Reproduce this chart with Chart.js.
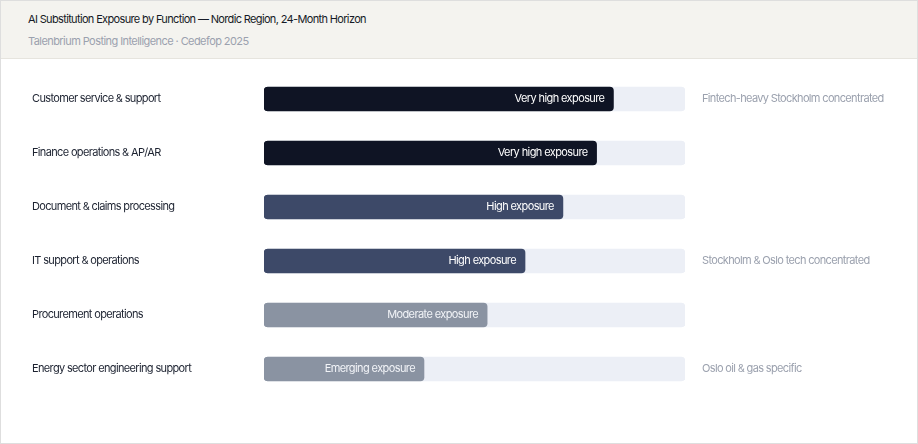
<!DOCTYPE html>
<html lang="en">
  <head>
    <meta charset="UTF-8" />
    <title>AI Substitution Exposure by Function</title>
    <script src="https://cdn.jsdelivr.net/npm/chart.js"></script>
    <style>
      html, body {
        margin: 0;
        padding: 0;
        background: #ffffff;
      }
      body {
        font-family: "Inter", "Liberation Sans", sans-serif;
      }
      .card {
        width: 918px;
        height: 444px;
        box-sizing: border-box;
        border: 1px solid #dedede;
        background: #ffffff;
        overflow: hidden;
      }
      .header {
        height: 58px;
        background: #f4f3ef;
        border-bottom: 1px solid #e6e4de;
        box-sizing: border-box;
        position: relative;
      }
      .title {
        position: absolute;
        left: 27px;
        top: 11px;
        font-size: 11px;
        color: #161a26;
        letter-spacing: -0.65px;
      }
      .subtitle {
        position: absolute;
        left: 27px;
        top: 33px;
        font-size: 11px;
        color: #9ba1ae;
        letter-spacing: -0.57px;
      }
      .chart-box {
        position: relative;
        width: 916px;
        height: 384px;
      }
    </style>
  </head>
  <body>
    <div class="card">
      <div class="header">
        <div class="title">AI Substitution Exposure by Function — Nordic Region, 24-Month Horizon</div>
        <div class="subtitle">Talenbrium Posting Intelligence · Cedefop 2025</div>
      </div>
      <div class="chart-box">
        <canvas id="exposureChart"></canvas>
      </div>
    </div>

    <script>
      const functions = [
        "Customer service & support",
        "Finance operations & AP/AR",
        "Document & claims processing",
        "IT support & operations",
        "Procurement operations",
        "Energy sector engineering support",
      ];
      const exposure = [83, 79, 71, 62, 53, 38];
      const levels = [
        "Very high exposure",
        "Very high exposure",
        "High exposure",
        "High exposure",
        "Moderate exposure",
        "Emerging exposure",
      ];
      const notes = [
        "Fintech-heavy Stockholm concentrated",
        "",
        "",
        "Stockholm & Oslo tech concentrated",
        "",
        "Oslo oil & gas specific",
      ];
      const track = [100, 100, 100, 100, 100, 100];

      const levelColors = {
        "Very high exposure": "#0f1424",
        "High exposure": "#3d4968",
        "Moderate exposure": "#8a93a2",
        "Emerging exposure": "#8a93a2",
      };

      const FONT = "Inter, 'Liberation Sans', sans-serif";

      // tighter tracking for all canvas text
      const tightText = {
        id: "tightText",
        beforeDraw(chart) {
          chart.ctx.letterSpacing = "-0.65px";
        },
      };

      // draws the level text inside the end of each bar
      const barLabels = {
        id: "barLabels",
        afterDatasetsDraw(chart) {
          const ctx = chart.ctx;
          const meta = chart.getDatasetMeta(1);
          ctx.save();
          ctx.font = "11px " + FONT;
          ctx.letterSpacing = "-0.6px";
          ctx.textAlign = "right";
          ctx.textBaseline = "middle";
          meta.data.forEach((bar, i) => {
            ctx.fillStyle = i < 4 ? "#ffffff" : "#f2f4f8";
            ctx.fillText(levels[i], bar.x - 9, bar.y);
          });
          ctx.restore();
        },
      };

      // fixed side columns, no extra label padding above/below the rows
      function fixSide(scale) {
        scale.width = 232;
        scale.paddingTop = 0;
        scale.paddingBottom = 0;
      }

      const ctx = document.getElementById("exposureChart").getContext("2d");
      new Chart(ctx, {
        type: "bar",
        data: {
          labels: functions,
          datasets: [
            {
              label: "Track",
              data: track,
              backgroundColor: "#eceff6",
              borderRadius: 4,
              borderSkipped: false,
              barThickness: 24,
              grouped: false,
              order: 2,
            },
            {
              label: "Exposure",
              data: exposure,
              backgroundColor: levels.map((l) => levelColors[l]),
              borderRadius: 4,
              borderSkipped: false,
              barThickness: 24,
              grouped: false,
              order: 1,
            },
          ],
        },
        options: {
          indexAxis: "y",
          responsive: true,
          maintainAspectRatio: false,
          animation: false,
          layout: {
            padding: { left: 31, right: 0, top: 13, bottom: 47 },
          },
          plugins: {
            legend: { display: false },
            tooltip: { enabled: false },
          },
          scales: {
            x: {
              display: false,
              min: 0,
              max: 100,
            },
            y: {
              position: "left",
              grid: { display: false },
              border: { display: false },
              ticks: {
                crossAlign: "far",
                padding: 0,
                color: "#1c2230",
                font: { family: FONT, size: 11 },
              },
              afterFit: fixSide,
            },
            y2: {
              position: "right",
              type: "category",
              labels: notes,
              offset: true,
              grid: { display: false },
              border: { display: false },
              ticks: {
                padding: 9,
                color: "#9ba1ae",
                font: { family: FONT, size: 11 },
              },
              afterFit: fixSide,
            },
          },
        },
        plugins: [tightText, barLabels],
      });
    </script>
  </body>
</html>
